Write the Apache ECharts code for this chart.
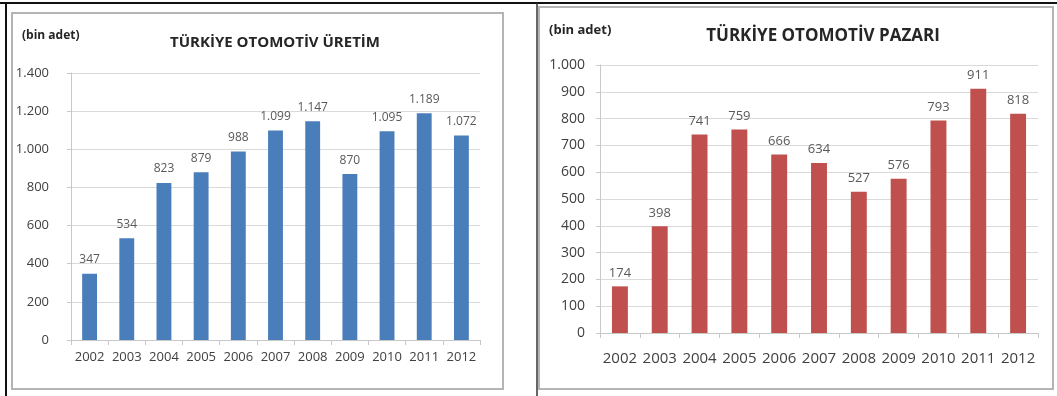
<!DOCTYPE html>
<html>
<head>
<meta charset="utf-8">
<script src="https://cdn.jsdelivr.net/npm/echarts@6/dist/echarts.min.js"></script>
<style>
html,body{margin:0;padding:0;background:#fff;}
#c{width:1057px;height:396px;}
</style>
</head>
<body>
<div id="c"></div>
<script>
const years = ['2002','2003','2004','2005','2006','2007','2008','2009','2010','2011','2012'];
const production = [347, 534, 823, 879, 988, 1099, 1147, 870, 1095, 1189, 1072];
const market = [174, 398, 741, 759, 666, 634, 527, 576, 793, 911, 818];
const titleLeft = 'TÜRKİYE OTOMOTİV ÜRETİM';
const titleRight = 'TÜRKİYE OTOMOTİV PAZARI';
const unitLabel = '(bin adet)';
const prodAxis = { min: 0, max: 1400, interval: 200 };
const marketAxis = { min: 0, max: 1000, interval: 100 };

const fmt = v => String(v).replace(/\B(?=(\d{3})+(?!\d))/g, '.');
const FONT = '"Open Sans", sans-serif';
const textCol = '#404040';
const gridCol = '#dadada';
const axisCol = '#c8c8c8';

const chart = echarts.init(document.getElementById('c'), null, { renderer: 'canvas' });

function xAx(gi, size, margin) {
  return {
    type: 'category', gridIndex: gi, data: years,
    axisLine: { lineStyle: { color: axisCol, width: 1 } },
    axisTick: { show: true, alignWithLabel: false, length: 5, lineStyle: { color: axisCol } },
    axisLabel: { color: textCol, fontFamily: FONT, fontSize: size, margin: margin, interval: 0 }
  };
}
function yAx(gi, ax, size, margin) {
  return {
    type: 'value', gridIndex: gi, min: ax.min, max: ax.max, interval: ax.interval,
    axisLine: { show: true, lineStyle: { color: axisCol, width: 1 } },
    axisTick: { show: true, length: 4, lineStyle: { color: axisCol } },
    splitLine: { lineStyle: { color: gridCol, width: 1 } },
    axisLabel: { color: textCol, fontFamily: FONT, fontSize: size, margin: margin, formatter: fmt }
  };
}

chart.setOption({
  animation: false,
  backgroundColor: '#fff',
  graphic: [
    { type: 'rect', shape: { x: 12, y: 13, width: 491, height: 376 }, style: { fill: 'none', stroke: '#b4b4b4', lineWidth: 2 } },
    { type: 'rect', shape: { x: 539, y: 7, width: 514, height: 382 }, style: { fill: 'none', stroke: '#b4b4b4', lineWidth: 2 } },
    { type: 'line', shape: { x1: 0, y1: 3, x2: 1057, y2: 3 }, style: { stroke: '#111', lineWidth: 2 } },
    { type: 'line', shape: { x1: 6, y1: 3, x2: 6, y2: 396 }, style: { stroke: '#111', lineWidth: 2 } },
    { type: 'line', shape: { x1: 537, y1: 3, x2: 537, y2: 396 }, style: { stroke: '#333', lineWidth: 1.5 } }
  ],
  title: [
    { text: titleLeft, left: 270, top: 30, textAlign: 'center',
      textStyle: { fontFamily: FONT, fontWeight: 'bold', fontSize: 15, color: '#262626' } },
    { text: titleRight, left: 818, top: 23, textAlign: 'center',
      textStyle: { fontFamily: FONT, fontWeight: 'bold', fontSize: 17, color: '#262626' } },
    { text: unitLabel, left: 17, top: 25,
      textStyle: { fontFamily: FONT, fontWeight: 'bold', fontSize: 12, color: '#262626' } },
    { text: unitLabel, left: 544, top: 19,
      textStyle: { fontFamily: FONT, fontWeight: 'bold', fontSize: 13, color: '#262626' } }
  ],
  grid: [
    { left: 71, top: 73, width: 409, height: 267 },
    { left: 600, top: 65, width: 438, height: 268 }
  ],
  xAxis: [ xAx(0, 13, 11), xAx(1, 15, 18) ],
  yAxis: [ yAx(0, prodAxis, 13, 22), yAx(1, marketAxis, 14, 15) ],
  series: [
    { type: 'bar', xAxisIndex: 0, yAxisIndex: 0, data: production, barWidth: '40%',
      itemStyle: { color: '#4a7ebb' },
      label: { show: true, position: 'top', distance: 8, color: '#595959', fontFamily: FONT, fontSize: 12, formatter: p => fmt(p.value) } },
    { type: 'bar', xAxisIndex: 1, yAxisIndex: 1, data: market, barWidth: '40%',
      itemStyle: { color: '#c0504d' },
      label: { show: true, position: 'top', distance: 7, color: '#595959', fontFamily: FONT, fontSize: 13, formatter: p => fmt(p.value) } }
  ]
});
</script>
</body>
</html>
